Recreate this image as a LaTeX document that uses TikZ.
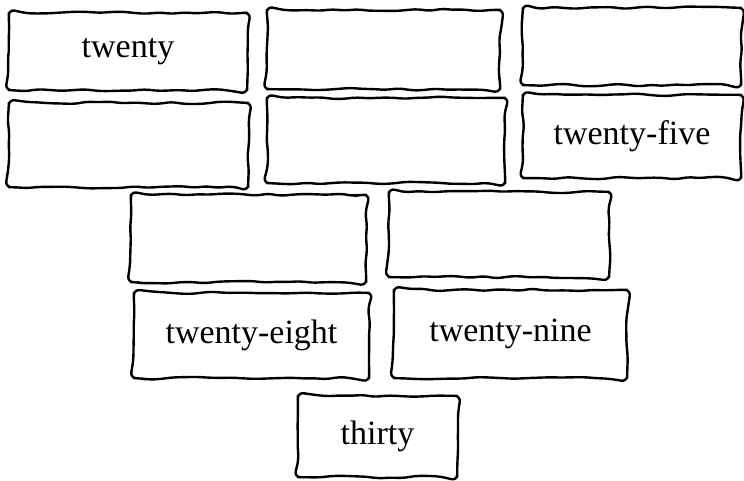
\documentclass[tikz,border=0pt]{standalone}
\usepackage{fontspec}
\setmainfont{Liberation Serif}
\usetikzlibrary{decorations.pathmorphing}
\begin{document}
\begin{tikzpicture}[x=1pt,y=-1pt,
  boxtext/.style={inner sep=0pt, font=\fontsize{34}{40}\selectfont},
  sketchline/.style={draw=black, line width=2.4pt, rounded corners=6pt, line join=round, line cap=round,
    decorate, decoration={random steps, segment length=12pt, amplitude=1.4pt}}]
\pgfmathsetseed{11}
\useasboundingbox[fill=white] (0,0) rectangle (744,481);
\node[boxtext, minimum width=238pt, minimum height=77pt] (b1) at (128,51.5) {twenty};
\node[boxtext, minimum width=233pt, minimum height=79pt] (b2) at (383.5,49.5) {};
\node[boxtext, minimum width=218pt, minimum height=77pt] (b3) at (632,46.5) {};
\node[boxtext, minimum width=239pt, minimum height=84pt] (b4) at (128.5,145) {};
\node[boxtext, minimum width=238pt, minimum height=85pt] (b5) at (386,140.5) {};
\node[boxtext, minimum width=218pt, minimum height=83pt] (b6) at (632,136.5) {twenty-five};
\node[boxtext, minimum width=235pt, minimum height=87pt] (b7) at (248.5,238.5) {};
\node[boxtext, minimum width=220pt, minimum height=85pt] (b8) at (499,234.5) {};
\node[boxtext, minimum width=235pt, minimum height=85pt] (b9) at (251.5,335.5) {twenty-eight};
\node[boxtext, minimum width=233pt, minimum height=88pt] (b10) at (510.5,334) {twenty-nine};
\node[boxtext, minimum width=159pt, minimum height=81pt] (b11) at (377.5,436.5) {thirty};
\foreach \b in {b1,b2,b3,b4,b5,b6,b7,b8,b9,b10,b11}
  \draw[sketchline] (\b.west) -- (\b.north west) -- (\b.north east) -- (\b.south east) -- (\b.south west) -- (\b.west);
\end{tikzpicture}
\end{document}
